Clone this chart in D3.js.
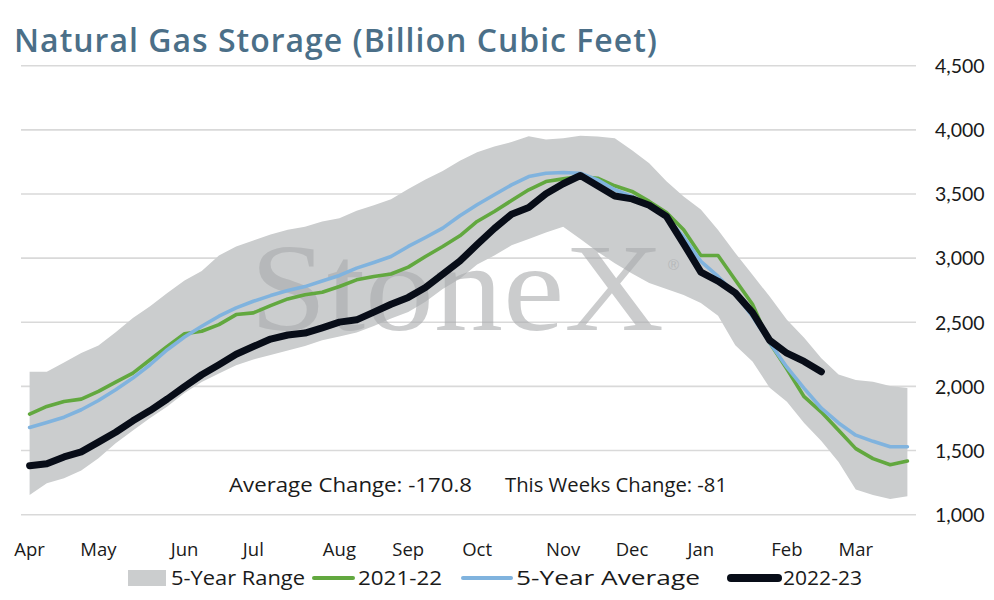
<!DOCTYPE html>
<html>
<head>
<meta charset="utf-8">
<script src="https://cdn.jsdelivr.net/npm/d3@7"></script>
<style>
  body { margin: 0; background: #fff; }
  .svgText { font-family: 'Open Sans', Lato, sans-serif; fill: #1a1a1a; }
  .numText { font-family: Lato, 'Open Sans', sans-serif; fill: #1a1a1a; }
</style>
</head>
<body>
<div id="chart"></div>
<script>

// weekly storage, Bcf (week 0 = first week of April)
const monthLabels = ['Apr', 'May', 'Jun', 'Jul', 'Aug', 'Sep', 'Oct', 'Nov', 'Dec', 'Jan', 'Feb', 'Mar'];
const monthWeeks = [0, 4, 9, 13, 18, 22, 26, 31, 35, 39, 44, 48];
const yTicks = [1000, 1500, 2000, 2500, 3000, 3500, 4000, 4500];

const rangeHigh = [2114, 2114, 2187, 2260, 2318, 2422, 2534, 2625, 2729, 2825,
  2900, 3020, 3090, 3138, 3185, 3222, 3245, 3285, 3310, 3370,
  3412, 3458, 3538, 3612, 3680, 3760, 3825, 3870, 3905, 3950,
  3925, 3935, 3953, 3948, 3935, 3840, 3740, 3600, 3480, 3380,
  3220, 3040, 2870, 2700, 2520, 2380, 2220, 2092, 2050, 2037, 2004, 1988];
const rangeLow = [1154, 1245, 1284, 1344, 1440, 1557, 1656, 1753, 1844, 1948,
  2035, 2100, 2165, 2210, 2245, 2280, 2315, 2360, 2390, 2420,
  2470, 2530, 2580, 2660, 2760, 2840, 2950, 3020, 3100, 3150,
  3200, 3245, 3150, 3050, 2960, 2880, 2806, 2760, 2712, 2650,
  2550, 2320, 2195, 1990, 1880, 1715, 1575, 1410, 1197, 1154, 1122, 1143];
const lastYear = [1784, 1844, 1883, 1901, 1961, 2034, 2104, 2208, 2312, 2411,
  2430, 2482, 2560, 2573, 2630, 2682, 2714, 2734, 2779, 2831,
  2857, 2876, 2930, 3013, 3091, 3174, 3286, 3364, 3449, 3533,
  3597, 3618, 3636, 3623, 3564, 3520, 3442, 3355, 3221, 3020,
  3020, 2830, 2640, 2340, 2135, 1920, 1800, 1658, 1515, 1437, 1389, 1418];
const fiveYearAvg = [1680, 1719, 1760, 1818, 1890, 1974, 2065, 2169, 2286, 2385,
  2469, 2547, 2612, 2664, 2708, 2747, 2778, 2822, 2865, 2922,
  2966, 3013, 3091, 3161, 3234, 3330, 3416, 3494, 3571, 3636,
  3662, 3668, 3662, 3610, 3533, 3481, 3403, 3320, 3165, 2975,
  2857, 2720, 2545, 2340, 2150, 1985, 1830, 1715, 1620, 1572, 1530, 1530];
const thisYear = [1382, 1397, 1450, 1490, 1566, 1643, 1732, 1812, 1902, 1999,
  2091, 2169, 2251, 2311, 2369, 2401, 2416, 2457, 2501, 2519,
  2579, 2640, 2694, 2771, 2874, 2977, 3106, 3231, 3342, 3394,
  3501, 3580, 3644, 3564, 3484, 3462, 3412, 3325, 3112, 2891,
  2820, 2729, 2576, 2359, 2259, 2195, 2114];

const avgChange = -170.8;
const weekChange = -81;

StorageChart = {

  svgSize: {width: 994, height: 600},
  plot: {left: 21, right: 916, top: 65.7, bottom: 514.7},
  colors: {range: '#cbcdce', green: '#62a83f', blue: '#80b3de', black: '#080d18', title: '#4b6f88'},

  createSVG: function(){
    this.svg = d3.select('#chart').append('svg')
      .attr('width', this.svgSize.width)
      .attr('height', this.svgSize.height)
      .attr('viewBox', '0 0 994 600')
  },

  createScales: function(){
    this.xScale = d3.scaleBand().domain(d3.range(rangeHigh.length))
      .range([this.plot.left, this.plot.right])
    this.x = (i)=> this.xScale(i) + this.xScale.bandwidth() / 2;
    this.yScale = d3.scaleLinear().domain([1000, 4500])
      .range([this.plot.bottom, this.plot.top])
  },

  createGrid: function(){
    this.svg.append('g').selectAll('line')
      .data(yTicks)
      .enter()
      .append('line')
      .attr('x1', this.plot.left)
      .attr('x2', this.plot.right)
      .attr('y1', (d)=> this.yScale(d))
      .attr('y2', (d)=> this.yScale(d))
      .attr('stroke', '#d9d9d9')
      .attr('stroke-width', 1.6)
  },

  createAxes: function(){
    const yAxis = d3.axisRight(this.yScale)
      .tickValues(yTicks)
      .tickFormat(d3.format(','))
      .tickSize(0)
      .tickPadding(0);
    const yg = this.svg.append('g')
      .attr('transform', 'translate(935, 0)')
      .call(yAxis)
    yg.select('.domain').remove();
    yg.selectAll('text').attr('class', 'numText').style('font-size', '19.5px').attr('dy', '0.35em')

    const xAxis = d3.axisBottom(this.xScale)
      .tickValues(monthWeeks)
      .tickFormat((d)=> monthLabels[monthWeeks.indexOf(d)])
      .tickSize(0)
      .tickPadding(0);
    const xg = this.svg.append('g')
      .attr('transform', 'translate(0, 543)')
      .call(xAxis)
    xg.select('.domain').remove();
    xg.selectAll('text').attr('class', 'svgText').style('font-size', '18.5px')
  },

  createRange: function(){
    const area = d3.area()
      .x((d, i)=> this.x(i))
      .y0((d, i)=> this.yScale(rangeLow[i]))
      .y1((d)=> this.yScale(d));
    this.svg.append('path')
      .datum(rangeHigh)
      .attr('d', area)
      .attr('fill', this.colors.range)
  },

  createWatermark: function(){
    const mark = this.svg.append('g').attr('opacity', 0.6)
    mark.append('text')
      .attr('x', 250)
      .attr('y', 330)
      .attr('textLength', 414)
      .attr('lengthAdjust', 'spacingAndGlyphs')
      .style('font-family', "'Liberation Serif', 'DejaVu Serif', serif")
      .style('font-size', '124px')
      .attr('fill', '#a9abad')
      .text('StoneX')
    mark.append('text')
      .attr('x', 668)
      .attr('y', 270)
      .style('font-family', "'Liberation Sans', sans-serif")
      .style('font-size', '15px')
      .attr('fill', '#a9abad')
      .text('®')
  },

  createLines: function(){
    const series = [
      {values: lastYear, color: this.colors.green, width: 3.6},
      {values: fiveYearAvg, color: this.colors.blue, width: 3.6},
      {values: thisYear, color: this.colors.black, width: 7}
    ];
    const line = d3.line()
      .x((d, i)=> this.x(i))
      .y((d)=> this.yScale(d));
    this.svg.append('g').selectAll('path')
      .data(series)
      .enter()
      .append('path')
      .attr('d', (d)=> line(d.values))
      .attr('fill', 'none')
      .attr('stroke', (d)=> d.color)
      .attr('stroke-width', (d)=> d.width)
      .attr('stroke-linejoin', 'round')
      .attr('stroke-linecap', 'round')
  },

  createTexts: function(){
    this.svg.append('text')
      .attr('x', 14)
      .attr('y', 52)
      .attr('textLength', 643)
      .attr('lengthAdjust', 'spacing')
      .style('font-family', "'Open Sans', Lato, sans-serif")
      .style('font-size', '32px')
      .style('font-weight', 600)
      .attr('fill', this.colors.title)
      .text('Natural Gas Storage (Billion Cubic Feet)')
    this.svg.append('text')
      .attr('class', 'svgText')
      .attr('x', 229)
      .attr('y', 492)
      .attr('textLength', 243)
      .attr('lengthAdjust', 'spacingAndGlyphs')
      .style('font-size', '19.5px')
      .text(`Average Change: ${avgChange}`)
    this.svg.append('text')
      .attr('class', 'svgText')
      .attr('x', 505)
      .attr('y', 492)
      .attr('textLength', 222)
      .attr('lengthAdjust', 'spacingAndGlyphs')
      .style('font-size', '19.5px')
      .text(`This Weeks Change: ${weekChange}`)
  },

  createLegend: function(){
    const items = [
      {name: '5-Year Range', type: 'rect', color: this.colors.range, x: 128, w: 38, tw: 134},
      {name: '2021-22', type: 'line', color: this.colors.green, x: 314, w: 39, sw: 4, tw: 84},
      {name: '5-Year Average', type: 'line', color: this.colors.blue, x: 463, w: 48, sw: 4, tw: 184},
      {name: '2022-23', type: 'line', color: this.colors.black, x: 731, w: 47, sw: 8, tw: 79}
    ];
    const legend = this.svg.append('g').attr('transform', 'translate(0, 578)')
    const g = legend.selectAll('g')
      .data(items)
      .enter()
      .append('g')
    g.filter((d)=> d.type === 'rect').append('rect')
      .attr('x', (d)=> d.x)
      .attr('y', -8)
      .attr('width', (d)=> d.w)
      .attr('height', 16)
      .attr('fill', (d)=> d.color)
    g.filter((d)=> d.type === 'line').append('line')
      .attr('x1', (d)=> d.x)
      .attr('x2', (d)=> d.x + d.w)
      .attr('stroke', (d)=> d.color)
      .attr('stroke-width', (d)=> d.sw)
      .attr('stroke-linecap', 'round')
    g.append('text')
      .attr('class', 'svgText')
      .attr('x', (d)=> d.x + d.w + 5)
      .attr('dy', '0.35em')
      .attr('textLength', (d)=> d.tw)
      .attr('lengthAdjust', 'spacingAndGlyphs')
      .style('font-size', '19.5px')
      .text((d)=> d.name)
  },

  loadChart: function(){
    this.createSVG();
    this.createScales();
    this.createGrid();
    this.createRange();
    this.createWatermark();
    this.createLines();
    this.createAxes();
    this.createTexts();
    this.createLegend();
  },

}

StorageChart.loadChart();

</script>
</body>
</html>
